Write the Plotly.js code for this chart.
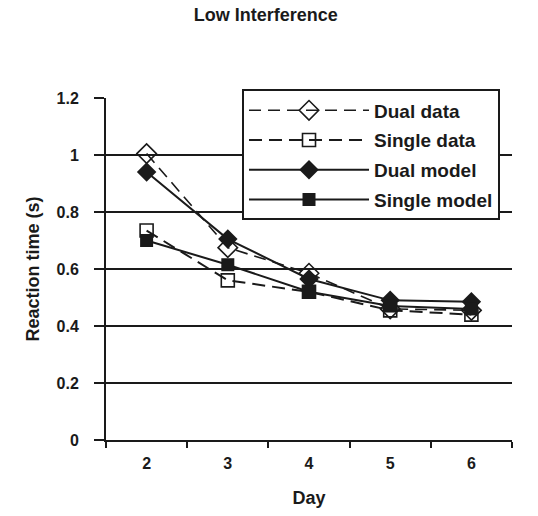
<!DOCTYPE html>
<html>
<head>
<meta charset="utf-8">
<script src="https://cdn.plot.ly/plotly-3.0.1.min.js"></script>
<style>body{margin:0;padding:0;background:#fff}#chart{width:538px;height:516px}</style>
</head>
<body>
<div id="chart"></div>
<script>
var days = ['2', '3', '4', '5', '6'];
var dualData = [1.005, 0.675, 0.585, 0.46, 0.455];
var singleData = [0.735, 0.56, 0.52, 0.455, 0.44];
var dualModel = [0.94, 0.705, 0.565, 0.49, 0.485];
var singleModel = [0.70, 0.615, 0.52, 0.47, 0.46];
var yTicks = [0, 0.2, 0.4, 0.6, 0.8, 1, 1.2];
var yTickText = ['0', '0.2', '0.4', '0.6', '0.8', '1', '1.2'];

var fnt = 'Liberation Sans, Arial, sans-serif';
var ink = '#1a1a1a';
var traces = [
  {x: days, y: dualData, name: 'Dual data', mode: 'lines+markers', legendgroup: 'a',
   line: {color: ink, width: 1.6, dash: '12px,7px'},
   marker: {symbol: 'diamond-open', size: 15, color: ink, line: {width: 1.6, color: ink}}},
  {x: days, y: singleData, name: 'Single data', mode: 'lines+markers', legendgroup: 'b',
   line: {color: ink, width: 2, dash: '13px,7px'},
   marker: {symbol: 'square-open', size: 13, color: ink, line: {width: 1.6, color: ink}}},
  {x: days, y: dualModel, name: 'Dual model', mode: 'lines+markers', legendgroup: 'c',
   line: {color: ink, width: 2},
   marker: {symbol: 'diamond', size: 15, color: ink}},
  {x: days, y: singleModel, name: 'Single model', mode: 'lines+markers', legendgroup: 'd',
   line: {color: ink, width: 2},
   marker: {symbol: 'square', size: 13, color: ink}}
];

var layout = {
  width: 538, height: 516,
  margin: {l: 106, r: 26, t: 98, b: 76},
  paper_bgcolor: '#fff', plot_bgcolor: '#fff',
  font: {family: fnt, color: ink},
  title: {text: '<b>Low Interference</b>', font: {size: 18, family: fnt, color: ink},
          x: 0.494, xanchor: 'center', xref: 'container', y: 0.971, yanchor: 'middle'},
  xaxis: {type: 'category', range: [-0.5, 4.5], tickson: 'boundaries', ticks: 'outside',
          ticklen: 6, tickwidth: 2, tickcolor: ink,
          showline: true, linecolor: ink, linewidth: 2, showgrid: false,
          ticklabelstandoff: 8,
          tickfont: {size: 16, family: fnt, color: ink, weight: 'bold'},
          title: {text: '<b>Day</b>', font: {size: 18, family: fnt, color: ink}, standoff: 20},
          zeroline: false, fixedrange: true},
  yaxis: {range: [0, 1.2], tickvals: yTicks, ticktext: yTickText, ticks: 'outside',
          ticklen: 10, tickwidth: 2, tickcolor: ink,
          showline: true, linecolor: ink, linewidth: 2,
          showgrid: true, gridcolor: ink, gridwidth: 2, zeroline: false,
          ticklabelstandoff: 12,
          tickfont: {size: 16, family: fnt, color: ink, weight: 'bold'},
          title: {text: '<b>Reaction time (s)</b>', font: {size: 18, family: fnt, color: ink}, standoff: 12},
          fixedrange: true},
  showlegend: true,
  legend: {x: 0.335, xanchor: 'left', y: 1.025, yanchor: 'top', bgcolor: '#fff',
           bordercolor: ink, borderwidth: 2, itemwidth: 120, tracegroupgap: 2,
           traceorder: 'grouped',
           font: {size: 19, family: fnt, color: ink, weight: 'bold'}}
};

Plotly.newPlot('chart', traces, layout, {displayModeBar: false, staticPlot: true});
</script>
</body>
</html>
